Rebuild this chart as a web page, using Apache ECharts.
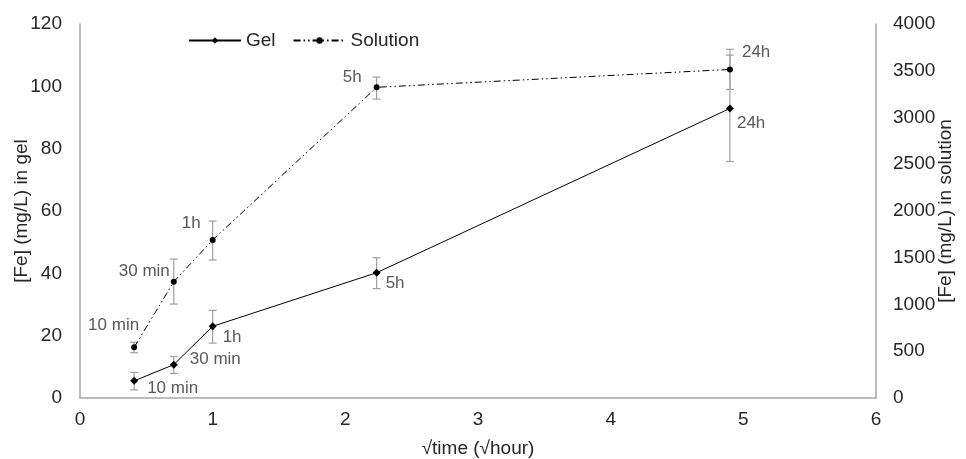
<!DOCTYPE html>
<html>
<head>
<meta charset="utf-8">
<script src="https://cdn.jsdelivr.net/npm/echarts@6/dist/echarts.min.js"></script>
<style>html,body{margin:0;padding:0;background:#fff;}#c{width:966px;height:459px;}</style>
</head>
<body>
<div id="c"></div>
<script>
// Data
var timeLabels = ['10 min', '30 min', '1h', '5h', '24h'];
var sqrtTime = [0.408, 0.707, 1.0, 2.236, 4.899];
var gel = [5.5, 10.7, 23.0, 40.2, 92.9];
var gelLow = [2.6, 7.9, 17.6, 35.1, 75.9];
var gelHigh = [8.2, 13.3, 28.1, 45.0, 110.0];
var sol = [542, 1244, 1690, 3323, 3514];
var solLow = [484, 1005, 1476, 3197, 3300];
var solHigh = [596, 1486, 1893, 3433, 3729];

// label placement (style only)
var gelLabelPos = [['left', 13, 7], ['left', 16, -5], ['left', 10, 11], ['left', 9, 11], ['left', 7, 15]];
var solLabelPos = [['right', 5, -22], ['right', -4, -10], ['right', -12, -17], ['right', -15, -10], ['left', 12, -17]];

var FONT = '"Liberation Sans", Arial, sans-serif';
var labelColor = '#595959';

function buildPoints(vals, pos) {
  return vals.map(function (v, i) {
    var p = pos[i];
    return {
      value: [sqrtTime[i], v],
      label: {
        show: true,
        position: 'inside',
        align: p[0],
        verticalAlign: 'middle',
        offset: [p[1], p[2]],
        formatter: timeLabels[i],
        color: labelColor,
        fontSize: 17,
        fontFamily: FONT
      }
    };
  });
}

function buildErr(lo, hi) {
  return lo.map(function (l, i) { return [sqrtTime[i], l, hi[i]]; });
}

function errRender(params, api) {
  var x = api.value(0);
  var a = api.coord([x, api.value(1)]);
  var b = api.coord([x, api.value(2)]);
  var w = 4;
  var st = { stroke: '#a0a0a0', lineWidth: 1.2 };
  return {
    type: 'group',
    children: [
      { type: 'line', shape: { x1: a[0], y1: a[1], x2: b[0], y2: b[1] }, style: st },
      { type: 'line', shape: { x1: a[0] - w, y1: a[1], x2: a[0] + w, y2: a[1] }, style: st },
      { type: 'line', shape: { x1: b[0] - w, y1: b[1], x2: b[0] + w, y2: b[1] }, style: st }
    ]
  };
}

var axisText = { color: '#262626', fontSize: 19, fontFamily: FONT };
var axisLine = { show: true, lineStyle: { color: '#a6a6a6', width: 1.5 } };

var chart = echarts.init(document.getElementById('c'), null, { renderer: 'canvas' });
chart.setOption({
  animation: false,
  backgroundColor: '#fff',
  grid: { left: 80, right: 90, top: 24, bottom: 61, containLabel: false, outerBoundsMode: 'none' },
  legend: {
    data: ['Gel', 'Solution'],
    left: 188, top: 31, padding: 0,
    itemWidth: 52, itemHeight: 8, itemGap: 17,
    textStyle: { color: '#262626', fontSize: 19, fontFamily: FONT }
  },
  xAxis: {
    type: 'value', min: 0, max: 6, interval: 1,
    axisLine: axisLine, axisTick: { show: false }, splitLine: { show: false },
    axisLabel: Object.assign({ margin: 12 }, axisText),
    name: '√time (√hour)', nameLocation: 'middle', nameGap: 41, nameMoveOverlap: false,
    nameTextStyle: axisText
  },
  yAxis: [
    {
      type: 'value', min: 0, max: 120, interval: 20,
      axisLine: axisLine, axisTick: { show: false }, splitLine: { show: false },
      axisLabel: Object.assign({ margin: 18 }, axisText),
      name: '[Fe] (mg/L) in gel', nameLocation: 'middle', nameGap: 49, nameMoveOverlap: false,
      nameTextStyle: axisText
    },
    {
      type: 'value', min: 0, max: 4000, interval: 500, position: 'right',
      axisLine: axisLine, axisTick: { show: false }, splitLine: { show: false },
      axisLabel: Object.assign({ margin: 17, formatter: function (v) { return String(v); } }, axisText),
      name: '[Fe] (mg/L) in solution', nameLocation: 'middle', nameGap: 60, nameRotate: 90, nameMoveOverlap: false,
      nameTextStyle: axisText
    }
  ],
  series: [
    {
      name: 'gelErr', type: 'custom', yAxisIndex: 0, z: 1,
      renderItem: errRender, data: buildErr(gelLow, gelHigh), silent: true
    },
    {
      name: 'solErr', type: 'custom', yAxisIndex: 1, z: 1,
      renderItem: errRender, data: buildErr(solLow, solHigh), silent: true
    },
    {
      name: 'Gel', type: 'line', yAxisIndex: 0, z: 3,
      symbol: 'diamond', symbolSize: 8,
      itemStyle: { color: '#000' },
      lineStyle: { color: '#000', width: 1 },
      data: buildPoints(gel, gelLabelPos)
    },
    {
      name: 'Solution', type: 'line', yAxisIndex: 1, z: 3,
      symbol: 'circle', symbolSize: 6,
      itemStyle: { color: '#000' },
      lineStyle: { color: '#000', width: 1, type: [7, 3, 1.5, 3, 1.5, 3] },
      data: buildPoints(sol, solLabelPos)
    }
  ]
});
</script>
</body>
</html>
